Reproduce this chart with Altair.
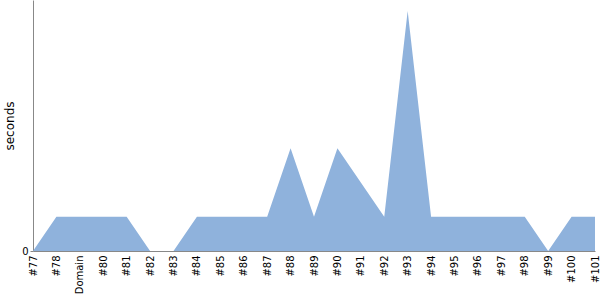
import altair as alt
import pandas as pd

domains = ["#77", "#78", "Domain", "#80", "#81", "#82", "#83", "#84", "#85", "#86",
           "#87", "#88", "#89", "#90", "#91", "#92", "#93", "#94", "#95", "#96",
           "#97", "#98", "#99", "#100", "#101"]
seconds = [0, 1, 1, 1, 1, 0, 0, 1, 1, 1,
           1, 3, 1, 3, 2, 1, 7, 1, 1, 1,
           1, 1, 0, 1, 1]

df = pd.DataFrame({"domain": domains, "seconds": seconds})

chart = alt.Chart(df).mark_area(color="#8fb2dc", opacity=1, interpolate="linear").encode(
    x=alt.X("domain:N", sort=domains,
            scale=alt.Scale(type="point", padding=0),
            axis=alt.Axis(title=None, labelAngle=-90, labelFontSize=10, labelFont="DejaVu Sans",
                          labelColor="#000", ticks=False, domainColor="#888", labelPadding=4,
                          labelBaseline="middle", labelAlign="right")),
    y=alt.Y("seconds:Q", scale=alt.Scale(domain=[0, 7.32], nice=False),
            axis=alt.Axis(title="seconds", values=[0], grid=False, tickSize=3, tickColor="#888",
                          domainColor="#888", labelFontSize=10, labelFont="DejaVu Sans",
                          labelColor="#000", titleFont="DejaVu Sans", titleFontSize=12,
                          titleFontWeight="normal", titleColor="#000", titlePadding=5)),
).properties(
    width=562, height=251,
    autosize=alt.AutoSizeParams(type="none"),
    padding={"left": 33, "top": 0, "right": 5, "bottom": 49},
).configure_view(stroke=None)

chart.save("out.html", embed_options={"renderer": "svg", "actions": False})
